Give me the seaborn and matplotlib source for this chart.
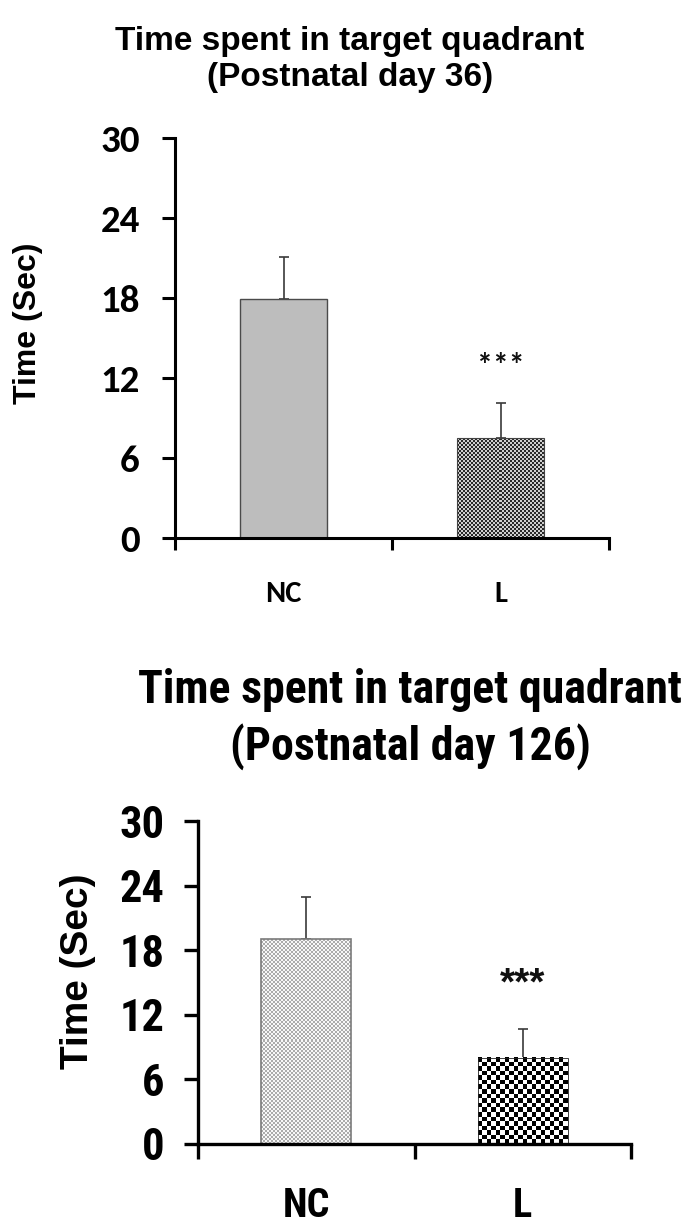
import numpy as np
import pandas as pd
import matplotlib
matplotlib.use("Agg")
import matplotlib.pyplot as plt
from matplotlib.colors import ListedColormap
import seaborn as sns

# ---------------- data ----------------
groups = ["NC", "L"]
day36_mean = [17.9, 7.5]
day36_sem = [3.2, 2.6]
day126_mean = [19.0, 8.0]
day126_sem = [3.9, 2.7]
significance = ["", "***"]
yticks = [0, 6, 12, 18, 24, 30]
title36 = "Time spent in target quadrant\n(Postnatal day 36)"
title126 = "Time spent in target quadrant\n(Postnatal day 126)"
ylabel = "Time (Sec)"

sns.set_theme(style="ticks")
plt.rcParams["font.family"] = ["Liberation Sans", "DejaVu Sans"]
for k in ["text.color", "axes.labelcolor", "xtick.color", "ytick.color"]:
    plt.rcParams[k] = "black"

W, H, DPI = 694, 1227, 100
fig = plt.figure(figsize=(W / DPI, H / DPI), dpi=DPI)
fig.patch.set_facecolor("white")

ARIAL = ["Liberation Sans", "DejaVu Sans"]
CALIBRI = ["Carlito", "Lato", "DejaVu Sans"]
NARROW = ["Roboto Condensed", "PT Sans Narrow", "DejaVu Sans"]


def px_box(l, r, t, b):
    return [l / W, 1 - b / H, (r - l) / W, (b - t) / H]


def add_texture(ax, patch, cell_px, c1, c2):
    x0, y0 = patch.get_x(), patch.get_y()
    w, h = patch.get_width(), patch.get_height()
    p0 = ax.transData.transform((x0, y0))
    p1 = ax.transData.transform((x0 + w, y0 + h))
    nx = max(1, int(round((p1[0] - p0[0]) / cell_px)))
    ny = max(1, int(round((p1[1] - p0[1]) / cell_px)))
    arr = np.indices((ny, nx)).sum(axis=0) % 2
    ax.imshow(arr, extent=(x0, x0 + w, y0, y0 + h), origin="lower",
              cmap=ListedColormap([c1, c2]), interpolation="nearest",
              aspect="auto", zorder=patch.get_zorder() - 0.05)
    patch.set_facecolor("none")


def panel(box, means, sems, title, styles, f):
    ax = fig.add_axes(px_box(*box))
    df = pd.DataFrame({"group": groups, "value": means})
    sns.barplot(data=df, x="group", y="value", hue="group",
                palette={g: s["face"] for g, s in zip(groups, styles)},
                legend=False, width=f["barw"], errorbar=None, ax=ax,
                linewidth=0, saturation=1)
    xs = np.arange(len(groups))
    ax.errorbar(xs, means, yerr=[np.zeros(len(sems)), sems], fmt="none",
                ecolor="#3a3a3a", elinewidth=1.2, capsize=3.3, capthick=1.2,
                zorder=0.5)
    ax.set_ylim(0, 30)
    ax.set_xlim(-0.5, len(groups) - 0.5)
    for patch, s in zip(ax.patches, styles):
        patch.set_edgecolor(s["edge"])
        patch.set_linewidth(s["lw"])
        patch.set_zorder(1)
        if s.get("tex"):
            add_texture(ax, patch, *s["tex"])
    ax.set_ylim(0, 30)
    ax.set_xlim(-0.5, len(groups) - 0.5)

    for x, m, e, sig in zip(xs, means, sems, significance):
        if sig:
            ax.text(x, m + e + f["star_off"], sig, ha="center", va="center",
                    fontsize=f["star_size"], fontweight="bold",
                    family=f["star_fam"], color="#111111")

    for sp in ["top", "right"]:
        ax.spines[sp].set_visible(False)
    for sp in ["left", "bottom"]:
        ax.spines[sp].set_linewidth(f["spw"])
        ax.spines[sp].set_color("black")

    ax.set_yticks(yticks)
    ax.set_yticklabels([str(t) for t in yticks], fontsize=f["tick_size"],
                       fontweight="bold", family=f["tick_fam"])
    ax.tick_params(axis="y", direction="out", length=f["ytl"],
                   width=f["spw"], pad=f["ypad"], colors="black")
    ax.set_xticks(np.arange(-0.5, len(groups), 1.0))
    ax.set_xticklabels([""] * (len(groups) + 1))
    ax.set_xticks(xs, minor=True)
    ax.set_xticklabels(groups, minor=True, fontsize=f["xl_size"],
                       fontweight="bold", family=f["tick_fam"])
    ax.tick_params(axis="x", which="major", direction="out",
                   length=f["xtl"], width=f["spw"], colors="black")
    ax.tick_params(axis="x", which="minor", length=0, pad=f["xpad"])
    ax.set_xlabel("")
    ax.set_ylabel(ylabel, fontsize=f["yl_size"], fontweight="bold",
                  family=f["yl_fam"])
    ax.yaxis.set_label_coords(*f["yl_pos"])
    ax.set_title(title, fontsize=f["t_size"], fontweight="bold",
                 family=f["t_fam"], x=f["t_x"], y=f["t_y"],
                 va="center", linespacing=f["t_ls"], color="black")
    ax.set_facecolor("white")
    return ax


styles36 = [
    {"face": "#bdbdbd", "edge": "#4a4a4a", "lw": 1.0},
    {"face": "#6e6e6e", "edge": "#444444", "lw": 0.8,
     "tex": (2.0, "#2a2a2a", "#d0d0d0")},
]
fonts36 = dict(barw=0.4, star_off=2.8, star_size=23, star_fam=CALIBRI,
               spw=2.2, tick_size=28, tick_fam=CALIBRI,
               ytl=9.4, ypad=16, xtl=8.6, xl_size=22, xpad=31,
               yl_size=23, yl_fam=ARIAL, yl_pos=(-0.304, 0.5375),
               t_size=24, t_fam=ARIAL, t_x=0.403, t_y=1.175, t_ls=1.2)
panel((175, 609, 138, 538), day36_mean, day36_sem, title36, styles36, fonts36)

styles126 = [
    {"face": "#d0d0d0", "edge": "#7a7a7a", "lw": 1.2,
     "tex": (2.0, "#acacac", "#f8f8f8")},
    {"face": "#777777", "edge": "#222222", "lw": 0.6,
     "tex": (4.5, "#000000", "#ffffff")},
]
fonts126 = dict(barw=0.415, star_off=4.1, star_size=28, star_fam=ARIAL,
                spw=2.4, tick_size=32, tick_fam=NARROW,
                ytl=10, ypad=14, xtl=10.8, xl_size=29, xpad=31,
                yl_size=28, yl_fam=ARIAL, yl_pos=(-0.2356, 0.5356),
                t_size=33, t_fam=NARROW, t_x=0.49, t_y=1.29, t_ls=1.3)
panel((198, 631, 821, 1144), day126_mean, day126_sem, title126, styles126, fonts126)

fig.savefig("out.png", dpi=DPI, facecolor="white")
